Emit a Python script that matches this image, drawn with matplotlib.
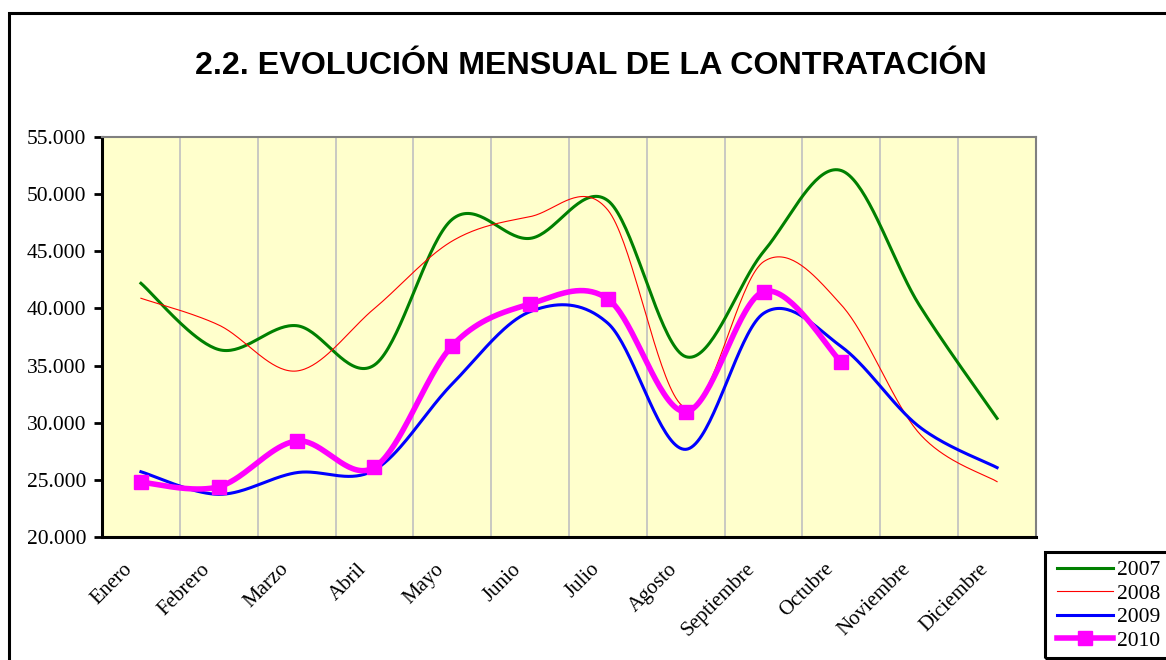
import numpy as np
import matplotlib
matplotlib.use("Agg")
import matplotlib.pyplot as plt
import matplotlib.transforms as mtrans
from matplotlib.patches import Rectangle
from matplotlib.lines import Line2D

months = ["Enero", "Febrero", "Marzo", "Abril", "Mayo", "Junio", "Julio",
          "Agosto", "Septiembre", "Octubre", "Noviembre", "Diciembre"]
s2007 = [42200, 36400, 38490, 35050, 47800, 46130, 49430, 35780, 44970, 52060, 40300, 30380]
s2008 = [40890, 38550, 34525, 40000, 45900, 48030, 48600, 31300, 44090, 40300, 29070, 24840]
s2009 = [25710, 23735, 25630, 25860, 33400, 39720, 38700, 27670, 39570, 36650, 29650, 26070]
s2010 = [24790, 24400, 28400, 26100, 36740, 40390, 40825, 30970, 41470, 35290]
yticks = [20000, 25000, 30000, 35000, 40000, 45000, 50000, 55000]
ytick_labels = ["20.000", "25.000", "30.000", "35.000", "40.000", "45.000", "50.000", "55.000"]
title = "2.2. EVOLUCIÓN MENSUAL DE LA CONTRATACIÓN"


def smooth(xs, ys, n=40):
    p = np.column_stack([np.asarray(xs, float), np.asarray(ys, float)])
    m = len(p)
    out = [p[0]]
    for i in range(m - 1):
        p0 = p[i - 1] if i > 0 else p[i]
        p1 = p[i]
        p2 = p[i + 1]
        p3 = p[i + 2] if i + 2 < m else p[i + 1]
        c1 = p1 + (p2 - p0) / 6.0
        c2 = p2 - (p3 - p1) / 6.0
        t = np.linspace(0, 1, n)[1:, None]
        b = ((1 - t) ** 3) * p1 + 3 * ((1 - t) ** 2) * t * c1 + 3 * (1 - t) * t ** 2 * c2 + t ** 3 * p2
        out.extend(b)
    out = np.array(out)
    return out[:, 0], out[:, 1]


fig = plt.figure(figsize=(11.66, 6.6), dpi=100)
ax = fig.add_axes([102 / 1166, 123 / 660, 934 / 1166, 400 / 660])
ax.set_facecolor("#FFFFCC")

x = np.arange(len(months))
for k in range(1, len(months)):
    ax.axvline(k - 0.5, color="#C0C0C0", lw=1.2, zorder=0)

sx, sy = smooth(x, s2007)
ax.plot(sx, sy, color="#008000", lw=2.2, zorder=3)
sx, sy = smooth(x, s2008)
ax.plot(sx, sy, color="#FF0000", lw=0.8, zorder=3)
sx, sy = smooth(x, s2009)
ax.plot(sx, sy, color="#0000FF", lw=2.2, zorder=3)
x10 = np.arange(len(s2010))
sx, sy = smooth(x10, s2010)
ax.plot(sx, sy, color="#FF00FF", lw=4, zorder=4, solid_capstyle="butt")
ax.plot(x10, s2010, ls="none", marker="s", ms=10.5, color="#FF00FF", zorder=5)

ax.set_xlim(-0.5, len(months) - 0.5)
ax.set_ylim(20000, 55000)
ax.set_yticks(yticks)
ax.set_yticklabels(ytick_labels, fontsize=15.5, family="Liberation Serif")
ax.set_xticks(x)
ax.set_xticklabels(months, rotation=45, ha="right", va="baseline", rotation_mode="anchor",
                   fontsize=15, family="Liberation Serif")
ax.tick_params(axis="x", length=0, pad=23.5)
ax.tick_params(axis="y", length=6, width=2, direction="out", pad=5.5)
shift = mtrans.ScaledTranslation(-8 / 100, 0, fig.dpi_scale_trans)
for lab in ax.get_xticklabels():
    lab.set_transform(lab.get_transform() + shift)

for s in ["top", "right"]:
    ax.spines[s].set_color("#808080")
    ax.spines[s].set_linewidth(1.5)
for s in ["left", "bottom"]:
    ax.spines[s].set_color("black")
    ax.spines[s].set_linewidth(2.2)

fig.text(591 / 1166, 1 - 66 / 660, title, ha="center", va="center",
         fontsize=23.2, fontweight="bold", family="Liberation Sans")

handles = [
    Line2D([], [], color="#008000", lw=2.2),
    Line2D([], [], color="#FF0000", lw=0.8),
    Line2D([], [], color="#0000FF", lw=2.2),
    Line2D([], [], color="#FF00FF", lw=4, marker="s", ms=10.5),
]
leg = fig.legend(handles, ["2007", "2008", "2009", "2010"], loc="upper left",
                 bbox_to_anchor=(1057 / 1166, 1 - 560 / 660), frameon=False,
                 borderaxespad=0, handlelength=2.6, borderpad=0,
                 handletextpad=0.2, labelspacing=0.16,
                 prop={"family": "Liberation Serif", "size": 15.5})

fig.add_artist(Rectangle((1045 / 1166, 1 - 658 / 660), 0.2, 106 / 660,
                         transform=fig.transFigure, fill=False, lw=2.2,
                         edgecolor="black"))
fig.add_artist(Rectangle((9 / 1166, -0.1), 2.0, 1 - 13 / 660 + 0.1,
                         transform=fig.transFigure, fill=False, lw=2.2,
                         edgecolor="black"))

fig.savefig("out.png", dpi=100)
